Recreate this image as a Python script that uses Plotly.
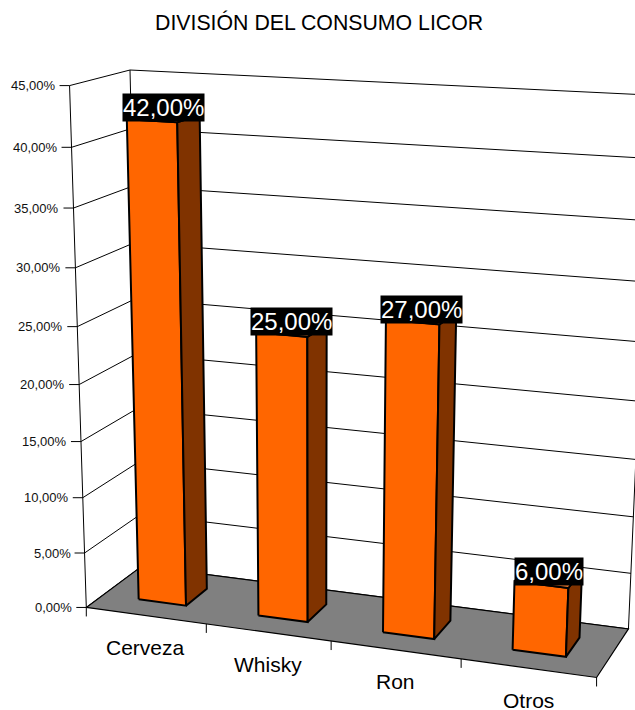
import numpy as np
import plotly.graph_objects as go

# ---------------- data ----------------
categories = ["Cerveza", "Whisky", "Ron", "Otros"]
values = [42.0, 25.0, 27.0, 6.0]
y_ticks = [0, 5, 10, 15, 20, 25, 30, 35, 40, 45]
y_tick_labels = ["0,00%", "5,00%", "10,00%", "15,00%", "20,00%",
                 "25,00%", "30,00%", "35,00%", "40,00%", "45,00%"]
title = "DIVISIÓN DEL CONSUMO LICOR"

# ---------------- styling / layout ----------------
W, H = 635, 710
FONT = "Liberation Sans, Arial, sans-serif"
ORANGE = "#FF6600"
BROWN = "#803300"
TOP = "#FF8533"
FLOOR = "#808080"
YMAX = 45.0
NCAT = len(categories)
BAR_X0, BAR_X1 = 0.3, 0.7
BAR_Z0, BAR_Z1 = 0.3, 0.7

# camera calibration: (category pos, value, depth) -> screen pixel
CALIB = [
    ((0, 0, 0), (86.7, 607.7)),
    ((1, 0, 0), (206.7, 624.1)),
    ((2, 0, 0), (330.7, 641.1)),
    ((4, 0, 0), (596.7, 677.3)),
    ((4, 0, 1), (628.3, 629.0)),
    ((0, 0, 1), (142.0, 566.0)),
    ((0, 45, 0), (70.0, 86.0)),
    ((0, 40, 0), (71.7, 147.3)),
    ((0, 35, 0), (72.6, 207.7)),
    ((0, 15, 0), (81.0, 441.3)),
    ((0, 10, 0), (82.7, 497.3)),
    ((0, 5, 0), (84.4, 553.3)),
    ((0, 45, 1), (130.0, 70.0)),
    ((4, 45, 1), (652.0, 95.2)),
]


def fit_camera():
    rows = []
    for (X, Y, Z), (u, v) in CALIB:
        w = np.array([X / NCAT, Y / YMAX, Z, 1.0])
        un, vn = (u - 320) / 300, (v - 350) / 300
        rows.append(np.concatenate([w, np.zeros(4), -un * w]))
        rows.append(np.concatenate([np.zeros(4), w, -vn * w]))
    _, _, vt = np.linalg.svd(np.array(rows))
    return vt[-1].reshape(3, 4)


P = fit_camera()


def proj(X, Y, Z):
    h = P @ np.array([X / NCAT, Y / YMAX, Z, 1.0])
    return 320 + 300 * h[0] / h[2], 350 + 300 * h[1] / h[2]


fig = go.Figure()


def poly(pts, fill, lw=1.0, lc="black"):
    xy = [proj(*p) for p in pts]
    xs = [p[0] for p in xy] + [xy[0][0]]
    ys = [p[1] for p in xy] + [xy[0][1]]
    fig.add_trace(go.Scatter(x=xs, y=ys, mode="lines", fill="toself",
                             fillcolor=fill,
                             line=dict(color=lc, width=lw),
                             hoverinfo="skip", showlegend=False))


def segs(seglist, lw=1.0, color="black"):
    xs, ys = [], []
    for s in seglist:
        for p in s:
            xs.append(p[0])
            ys.append(p[1])
        xs.append(None)
        ys.append(None)
    fig.add_trace(go.Scatter(x=xs, y=ys, mode="lines",
                             line=dict(color=color, width=lw),
                             hoverinfo="skip", showlegend=False))


# walls
poly([(0, 0, 0), (0, 0, 1), (0, YMAX, 1), (0, YMAX, 0)], "white", 0, "white")
poly([(0, 0, 1), (NCAT, 0, 1), (NCAT, YMAX, 1), (0, YMAX, 1)], "white", 0, "white")

grid = []
for t in y_ticks:
    grid.append([proj(0, t, 0), proj(0, t, 1), proj(NCAT, t, 1)])
grid.append([proj(0, 0, 0), proj(0, YMAX, 0)])
grid.append([proj(0, 0, 1), proj(0, YMAX, 1)])
grid.append([proj(NCAT, 0, 1), proj(NCAT, YMAX, 1)])
segs(grid, 1.0)

# floor
poly([(0, 0, 0), (NCAT, 0, 0), (NCAT, 0, 1), (0, 0, 1)], FLOOR, 1.2)

# axis ticks
ticks = []
for t in y_ticks:
    x, y = proj(0, t, 0)
    ticks.append([(x - 10, y), (x, y)])
for k in range(NCAT + 1):
    x, y = proj(k, 0, 0)
    ticks.append([(x, y), (x, y + 9)])
segs(ticks, 1.0)

# bars
for k, v in enumerate(values):
    a, b = k + BAR_X0, k + BAR_X1
    poly([(a, 0, BAR_Z0), (b, 0, BAR_Z0), (b, v, BAR_Z0), (a, v, BAR_Z0)], ORANGE, 2.0)
    poly([(b, 0, BAR_Z0), (b, 0, BAR_Z1), (b, v, BAR_Z1), (b, v, BAR_Z0)], BROWN, 2.0)
    poly([(a, v, BAR_Z0), (b, v, BAR_Z0), (b, v, BAR_Z1), (a, v, BAR_Z1)], TOP, 2.0)

annotations = []
# value labels
for k, v in enumerate(values):
    cx, _ = proj(k + 0.5, v, 0.5)
    _, fy = proj(k + 0.5, v, BAR_Z0)
    annotations.append(dict(
        x=cx, y=fy + 1.5, xref="x", yref="y", showarrow=False,
        text=f"{v:.2f}".replace(".", ",") + "%",
        xanchor="center", yanchor="bottom",
        font=dict(family=FONT, size=24, color="white"),
        bgcolor="black", borderpad=0))

# y tick labels
for t, lab in zip(y_ticks, y_tick_labels):
    x, y = proj(0, t, 0)
    annotations.append(dict(
        x=x - 12, y=y, xref="x", yref="y", showarrow=False, text=lab,
        xanchor="right", yanchor="middle",
        font=dict(family=FONT, size=13, color="#111111")))

# category labels
for k, c in enumerate(categories):
    x, y = proj(k + 0.5, 0, 0)
    annotations.append(dict(
        x=x, y=y + 32, xref="x", yref="y", showarrow=False, text=c,
        xanchor="center", yanchor="middle",
        font=dict(family=FONT, size=21, color="black")))

# title
annotations.append(dict(
    x=319, y=22, xref="x", yref="y", showarrow=False, text=title,
    xanchor="center", yanchor="middle",
    font=dict(family=FONT, size=21.3, color="black")))

fig.update_layout(
    width=W, height=H, autosize=False,
    margin=dict(l=0, r=0, t=0, b=0, pad=0),
    paper_bgcolor="white", plot_bgcolor="white",
    xaxis=dict(range=[0, W], visible=False, fixedrange=True),
    yaxis=dict(range=[H, 0], visible=False, fixedrange=True),
    annotations=annotations,
    showlegend=False,
)

fig.write_html("out.html")
